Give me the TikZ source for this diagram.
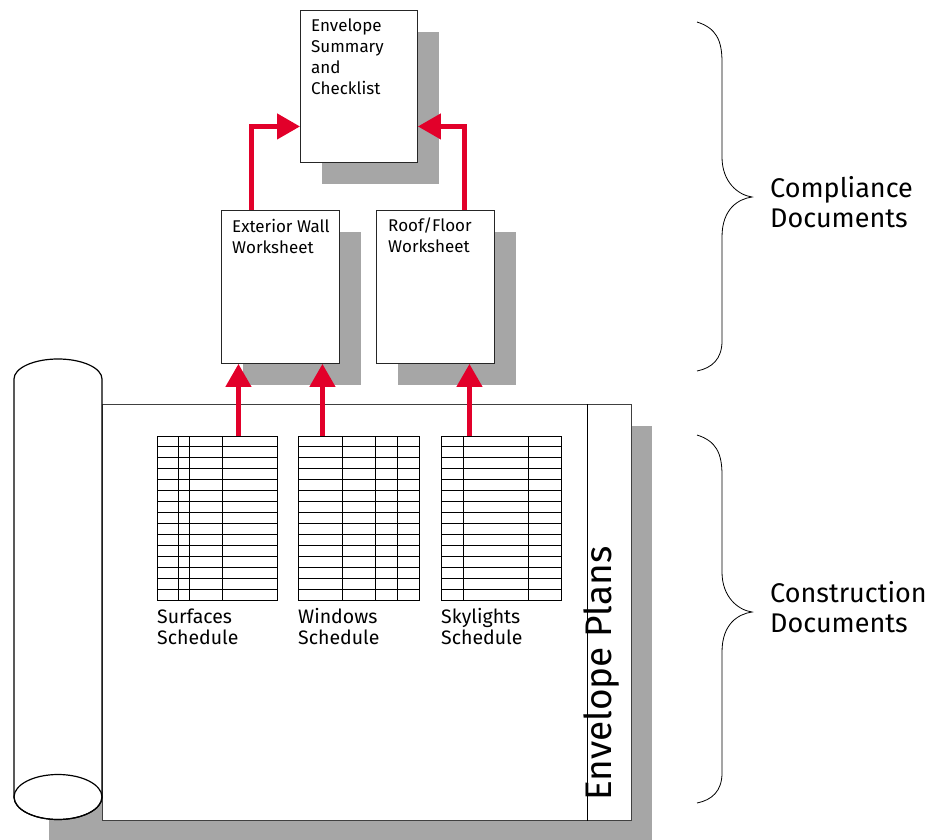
\documentclass[tikz,border=0pt]{standalone}
\usepackage{fontspec}
\setmainfont{Fira Sans}
\usetikzlibrary{arrows.meta,positioning,shadows}
\definecolor{flowred}{HTML}{E2002A}
\definecolor{shadowgray}{HTML}{A6A6A6}

\begin{document}
\begin{tikzpicture}[x=1pt,y=-1pt,
    doc/.style={
% The shape:
rectangle, anchor=north west,
% The size:
minimum width=118pt, minimum height=153pt,
% The border:
draw=black!85, line width=0.9pt, fill=white,
% The shadow:
drop shadow={shadow xshift=22pt, shadow yshift=-22pt, opacity=1, fill=shadowgray},
},
    sheet/.style={
% The shape:
rectangle, anchor=north west,
% The size:
minimum width=529pt, minimum height=416pt,
% The border:
draw=black!75, line width=0.9pt, fill=white,
},
    schedbox/.style={rectangle, anchor=north west, inner sep=0pt,
      minimum height=164pt, draw, line width=0.9pt},
    rowline/.style={line width=0.9pt},
    flow/.style={draw=flowred, line width=4.5pt,
      -{Triangle[length=23pt,width=25pt]}},
    doctext/.style={anchor=base west, align=left, inner sep=0pt,
      font=\fontsize{17}{21}\selectfont},
    schedtext/.style={anchor=base west, align=left, inner sep=0pt,
      font=\fontsize{19.5}{21}\selectfont},
    sidetext/.style={anchor=base west, align=left, inner sep=0pt,
      font=\fontsize{27}{30}\selectfont},
    plantext/.style={anchor=base west, inner sep=0pt, rotate=90,
      font=\fontsize{37}{40}\selectfont},
]
  \useasboundingbox (0,0) rectangle (945,840);

  % the plan sheet, its shadow and its title strip
  \fill[shadowgray] (49,426) rectangle (652,842);
  \node[sheet] (plans) at (102,404) {};
  \draw[line width=0.9pt] ([xshift=-44pt]plans.north east) -- ([xshift=-44pt]plans.south east);
  \node[plantext] (plantitle) at ([xshift=-20pt,yshift=20pt]plans.south east) {Envelope Plans};

  % rolled-up end of the sheet
  \filldraw[fill=white, line width=1.2pt] (14,379)
    arc[start angle=180, end angle=0, x radius=44pt, y radius=20pt] -- (102,797)
    arc[start angle=0, end angle=-180, x radius=44pt, y radius=22.5pt] -- cycle;
  \coordinate (rollend) at (58,797);
  \draw[line width=1.2pt] (rollend) ellipse[x radius=44pt, y radius=22.5pt];

  % schedules drawn on the sheet
  \foreach \name/\xl/\xr/\cols/\title in {
      surf/157/277/{178.7,189.7,222}/Surfaces,
      win/298/419/{342.7,375.7,397.3}/Windows,
      sky/441/561/{463.3,528.3}/Skylights} {
    \node[schedbox, minimum width=\xr-\xl] (\name) at (\xl,436) {};
    \foreach \r in {1,...,14}
      \draw[rowline] (\xl,436+\r*164/15) -- (\xr,436+\r*164/15);
    \foreach \c in \cols
      \draw[rowline] (\c,436) -- (\c,600);
    \node[schedtext] (\name-label) at (\xl,644) {\title\\Schedule};
  }

  % worksheets and summary
  \node[doc] (wall) at (221,210) {};
  \node[doctext] (wall-label) at ([shift={(11pt,-43.7pt)}]wall.north west) {Exterior Wall\\Worksheet};
  \node[doc] (roof) at (376,210) {};
  \node[doctext] (roof-label) at ([shift={(12pt,-42pt)}]roof.north west) {Roof/Floor\\Worksheet};
  \node[doc, minimum width=117pt, minimum height=152pt] (summ) at (300,10) {};
  \node[doctext] (summ-label) at ([shift={(11pt,-85pt)}]summ.north west) {Envelope\\Summary\\and\\Checklist};

  % flow of data
  \draw[flow] ([xshift=21pt]surf.north) -- ([xshift=21pt]surf.north |- wall.south);
  \draw[flow] ([xshift=-36.5pt]win.north) -- ([xshift=-36.5pt]win.north |- wall.south);
  \draw[flow] ([xshift=-32pt]sky.north) -- ([xshift=-32pt]sky.north |- roof.south);
  \draw[flow] ([xshift=-29pt]wall.north) |- ([yshift=-40pt]summ.west);
  \draw[flow] ([xshift=29pt]roof.north) |- ([yshift=-40pt]summ.east);

  % braces on the right
  \foreach \ya/\yb/\yc in {22/197/371, 435/612/803}
    \draw[line width=0.8pt] (697,\ya) .. controls (716,\ya+6) and (722,\ya+18) .. (722,\ya+40)
      -- (722,\yb-40) .. controls (722,\yb-15) and (738,\yb-2) .. (752,\yb)
      .. controls (738,\yb+2) and (722,\yb+12) .. (722,\yb+40)
      -- (722,\yc-30) .. controls (722,\yc-12) and (712,\yc-3) .. (697,\yc);
  \node[sidetext] (comp) at (770,227) {Compliance\\Documents};
  \node[sidetext] (cons) at (770,632) {Construction\\Documents};
\end{tikzpicture}
\end{document}
